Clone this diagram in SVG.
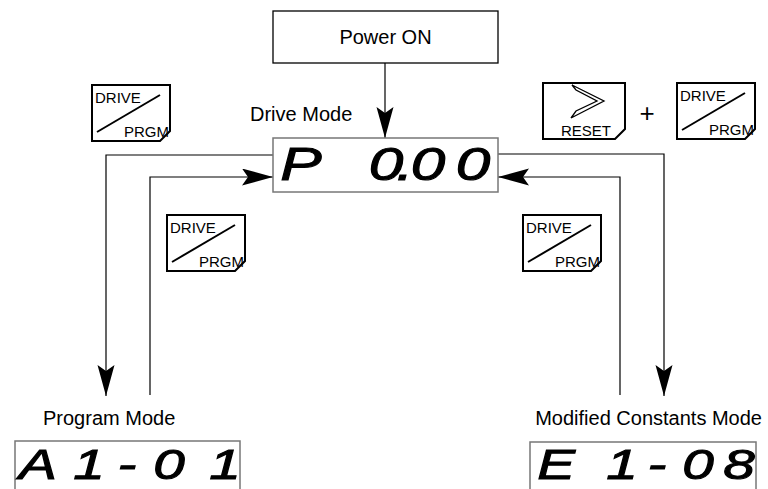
<svg xmlns="http://www.w3.org/2000/svg" width="768" height="489" viewBox="0 0 768 489">
<style>
.lbl{font-family:"Liberation Sans",Arial,sans-serif;font-size:20px;fill:#000}
.key{fill:#fff;stroke:#000;stroke-width:2}
.kt{font-family:"Liberation Sans",Arial,sans-serif;font-size:15px;fill:#000}
.box{fill:#fff;stroke:#000;stroke-width:1.3}
.disp{fill:#fff;stroke:#777;stroke-width:1.5}
.seg{font-family:"Liberation Sans",Arial,sans-serif;font-size:46px;font-style:italic;fill:#000;stroke:#000;stroke-width:1}
.segs{font-size:42px}
.con{fill:none;stroke:#000;stroke-width:1.2}
</style>
<defs>
<marker id="ah" markerUnits="userSpaceOnUse" markerWidth="32" markerHeight="18" refX="31" refY="8.5" orient="auto">
<path d="M0,0 L31,8.5 L0,17 L6,8.5 Z" fill="#000"/>
</marker>
<g id="keyshape">
<path class="key" d="M0,0 H78 V46 L68,56 H0 Z"/>
<line x1="5" y1="47" x2="68" y2="10" stroke="#000" stroke-width="2"/>
</g>
</defs>

<g id="connectors">
<path class="con" d="M385,63 V138" marker-end="url(#ah)"/>
<path class="con" d="M273,155 H106 V396" marker-end="url(#ah)"/>
<path class="con" d="M150,395 V177 H273" marker-end="url(#ah)"/>
<path class="con" d="M498,154 H664 V396" marker-end="url(#ah)"/>
<path class="con" d="M620,395 V177 H498" marker-end="url(#ah)"/>
</g>

<g id="power-on">
<rect class="box" x="273" y="11" width="225" height="52"/>
<text class="lbl" x="385.5" y="44" text-anchor="middle">Power ON</text>
</g>

<g id="drive-mode">
<text class="lbl" x="250" y="121">Drive Mode</text>
<rect class="disp" x="273" y="138" width="225" height="54"/>
<text class="seg" transform="scale(1.35 1)" text-anchor="middle" x="223 286 300 317 350.4" y="180">P0.00</text>
</g>

<g id="program-mode">
<text class="lbl" x="43" y="425">Program Mode</text>
<rect class="disp" x="15" y="441" width="225" height="60"/>
<text class="seg segs" transform="scale(1.35 1)" text-anchor="middle" x="28.1 65.9 94.1 125.2 166.7" y="479">A1-01</text>
</g>

<g id="modified-constants-mode">
<text class="lbl" x="762" y="425" text-anchor="end">Modified Constants Mode</text>
<rect class="disp" x="530" y="442" width="226" height="60"/>
<text class="seg segs" transform="scale(1.35 1)" text-anchor="middle" x="411.9 460.7 486.7 517 547.4" y="479">E1-08</text>
</g>

<g id="key-drive-prgm-top-left">
<use href="#keyshape" transform="translate(92,85)"/>
<text class="kt" x="95" y="103">DRIVE</text>
<text class="kt" x="169" y="137" text-anchor="end">PRGM</text>
</g>

<g id="key-reset">
<path class="key" d="M543,83 H625 V129 L615,139 H543 Z"/>
<path d="M572,85 L604,101 L571,118 L576,111 L597,101 L576,90 Z" fill="#fff" stroke="#000" stroke-width="1.3" stroke-linejoin="miter"/>
<text class="kt" x="586" y="136" text-anchor="middle">RESET</text>
</g>

<g id="plus">
<text class="lbl" x="647" y="122" text-anchor="middle" style="font-size:26px">+</text>
</g>

<g id="key-drive-prgm-top-right">
<use href="#keyshape" transform="translate(677,83)"/>
<text class="kt" x="680" y="101">DRIVE</text>
<text class="kt" x="754" y="135" text-anchor="end">PRGM</text>
</g>

<g id="key-drive-prgm-mid-left">
<use href="#keyshape" transform="translate(167,215)"/>
<text class="kt" x="170" y="233">DRIVE</text>
<text class="kt" x="244" y="267" text-anchor="end">PRGM</text>
</g>

<g id="key-drive-prgm-mid-right">
<use href="#keyshape" transform="translate(523,215)"/>
<text class="kt" x="526" y="233">DRIVE</text>
<text class="kt" x="600" y="267" text-anchor="end">PRGM</text>
</g>
</svg>
